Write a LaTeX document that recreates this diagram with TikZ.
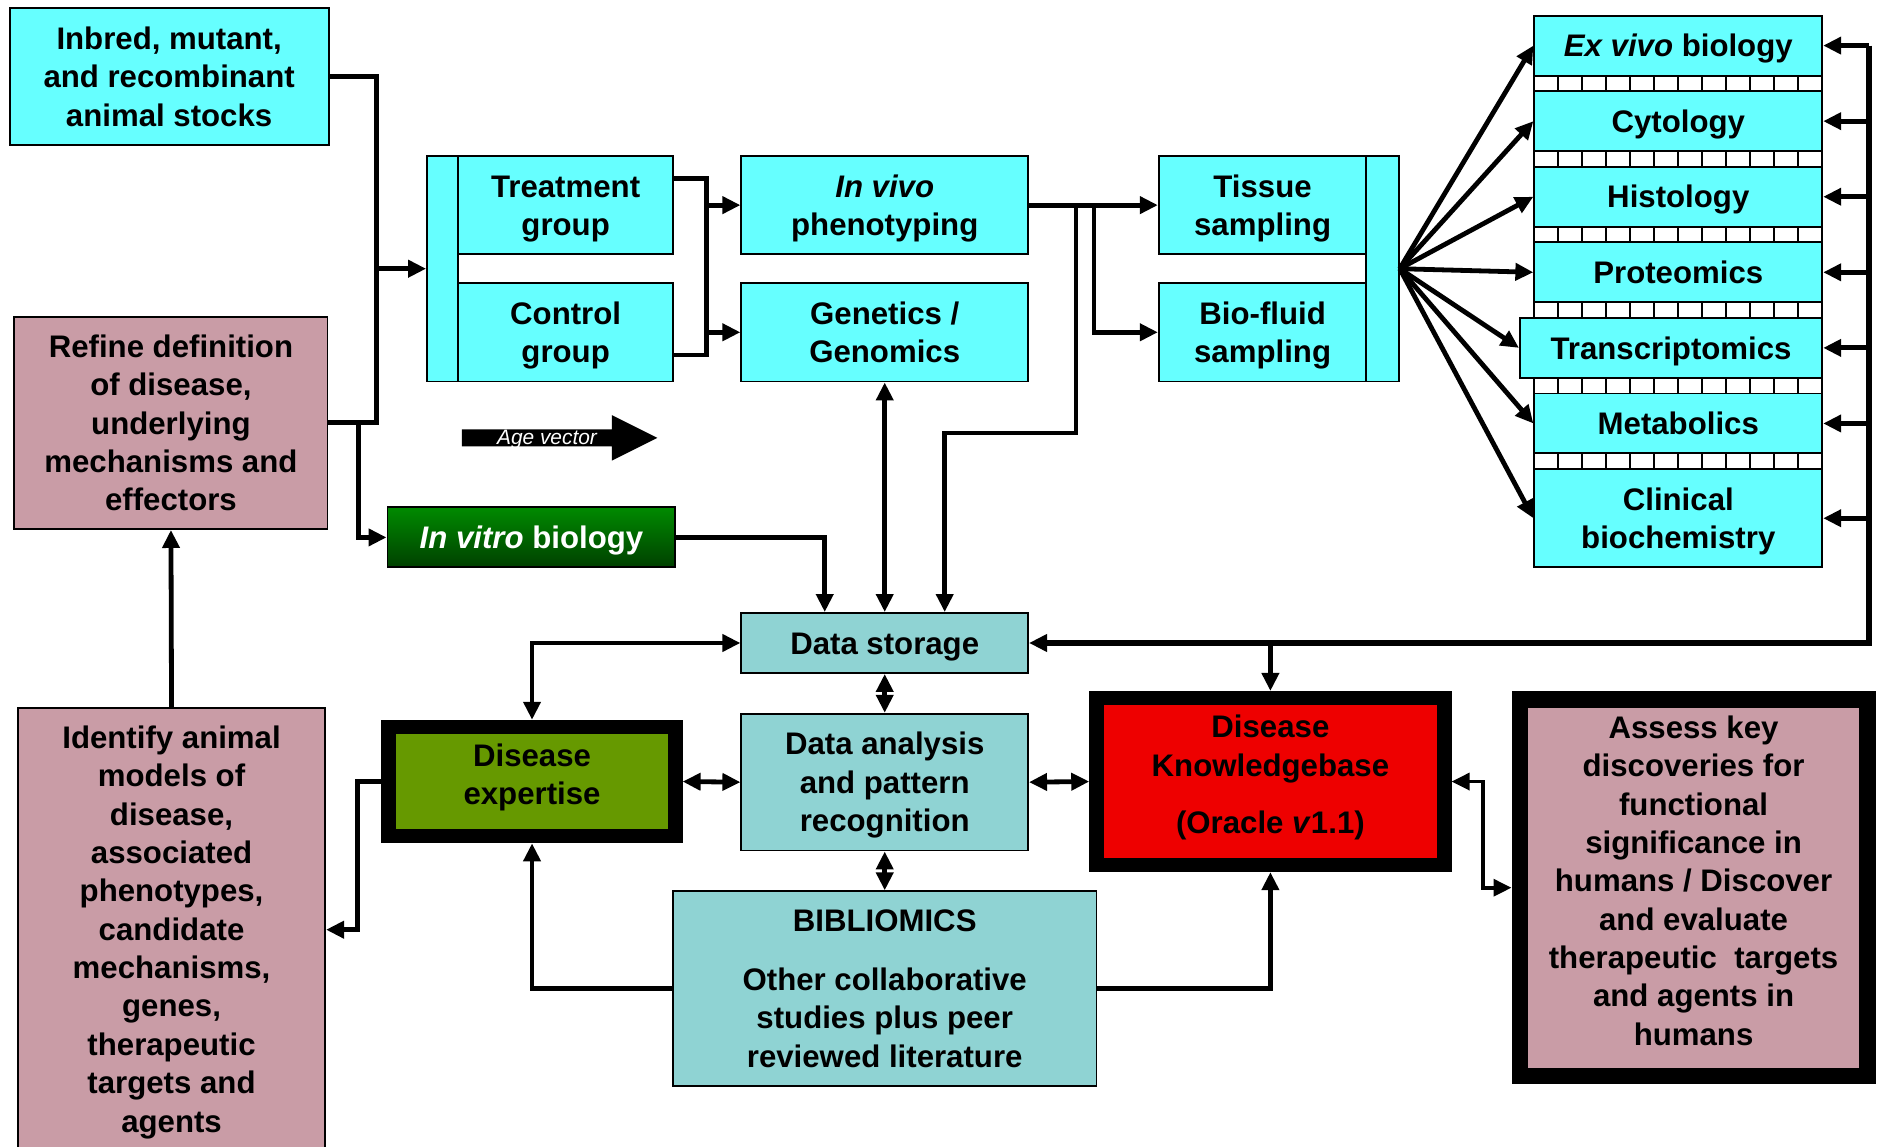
\documentclass[tikz,border=0pt]{standalone}
\usepackage{fontspec}
\setmainfont{Liberation Sans}
\usetikzlibrary{arrows.meta}
\definecolor{boxcyan}{HTML}{66FFFF}
\definecolor{boxpink}{HTML}{C99CA6}
\definecolor{boxteal}{HTML}{8FD3D3}
\definecolor{expgreen}{HTML}{669900}
\definecolor{kbred}{HTML}{EE0000}
\definecolor{ivtop}{HTML}{008A00}
\definecolor{ivbot}{HTML}{004000}
\newcommand{\topstrut}[1][12pt]{\rule{0pt}{#1}}
\tikzset{
		>={Triangle[length=7.5pt,width=7pt]},
		box/.style={draw,line width=0.8pt,align=center,inner sep=0pt,
			font=\bfseries\fontsize{13}{16}\selectfont},
		lowtext/.style={execute at begin node={\topstrut}},
		hightext/.style={execute at end node={\rule[-6pt]{0pt}{6pt}}},
		cyanbox/.style={box,lowtext,fill=boxcyan},
		pinkbox/.style={box,fill=boxpink},
		tealbox/.style={box,fill=boxteal},
		heavybox/.style={box,hightext,line width=6pt},
		conn/.style={line width=2pt},
		rail/.style={line width=2.6pt},
		ladder/.style={draw,fill=white,line width=0.8pt}
	}
\begin{document}
\begin{tikzpicture}[x=0.5pt,y=-0.5pt]
          \useasboundingbox[fill=white] (0,0) rectangle (1568,956);

          % ladders between the assay boxes
          \foreach \y in {63,126,189,252,315,378}{
            \draw[ladder] (1279,\y) rectangle (1519,\y+13);
            \foreach \i in {1,...,11}
              \draw[line width=0.8pt] ({1279+20*\i},\y) -- ++(0,13);
          }

          \node[box,fill=boxcyan,minimum width=133pt,minimum height=57pt] (inbred) at (141,64) {Inbred, mutant,\\and recombinant\\animal stocks};
          \node[pinkbox,minimum width=130.5pt,minimum height=88.5pt] (refine) at (142.5,352.5) {Refine definition\\of disease,\\underlying\\mechanisms and\\effectors};
          \node[pinkbox,minimum width=128pt,minimum height=185pt] (identify) at (143,775) {\topstrut[11.5pt]Identify animal\\models of\\disease,\\associated\\phenotypes,\\candidate\\mechanisms,\\genes,\\therapeutic\\targets and\\agents};

          \node[cyanbox,minimum width=13pt,minimum height=94pt] (bar1) at (369,224) {};
          \node[cyanbox,minimum width=89.5pt,minimum height=41pt] (treat) at (471.5,171) {\topstrut Treatment\\group};
          \node[cyanbox,minimum width=89.5pt,minimum height=41pt] (control) at (471.5,277) {\topstrut Control\\group};
          \node[cyanbox,minimum width=119.5pt,minimum height=41pt] (invivo) at (737.5,171) {\topstrut\textit{In vivo}\\phenotyping};
          \node[cyanbox,minimum width=119.5pt,minimum height=41pt] (genetics) at (737.5,277) {Genetics /\\Genomics};
          \node[cyanbox,minimum width=86.5pt,minimum height=41pt] (tissue) at (1052.5,171) {\topstrut Tissue\\sampling};
          \node[cyanbox,minimum width=86.5pt,minimum height=41pt] (biofluid) at (1052.5,277) {\topstrut Bio-fluid\\sampling};
          \node[cyanbox,minimum width=13.5pt,minimum height=94pt] (bar2) at (1152.5,224) {};

          \node[cyanbox,minimum width=120pt,minimum height=25pt] (exvivo) at (1399,38) {\textit{Ex vivo} biology};
          \node[cyanbox,minimum width=120pt,minimum height=25pt] (cytology) at (1399,101) {Cytology};
          \node[cyanbox,minimum width=120pt,minimum height=25pt] (histology) at (1399,164) {Histology};
          \node[box,fill=boxcyan,minimum width=120pt,minimum height=25pt] (proteomics) at (1399,227) {Proteomics};
          \node[cyanbox,minimum width=126pt,minimum height=25pt] (transcript) at (1393,290) {Transcriptomics};
          \node[box,fill=boxcyan,minimum width=120pt,minimum height=25pt] (metabol) at (1399,353) {Metabolics};
          \node[cyanbox,minimum width=120pt,minimum height=41pt] (clinical) at (1399,432) {\topstrut Clinical\\biochemistry};

          % age vector
          \fill (385,358) -- (510,358) -- (510,346) -- (548,365) -- (510,384) -- (510,372) -- (385,372) -- cycle;
          \node[text=white,font=\itshape\fontsize{8.7}{10}\selectfont] (agelabel) at (456,366) {Age vector};

          \node[box,lowtext,top color=ivtop,bottom color=ivbot,text=white,minimum width=120pt,minimum height=25pt] (invitro) at (443,448) {\textit{In vitro} biology};
          \node[tealbox,lowtext,minimum width=119.5pt,minimum height=25pt] (datastore) at (737.5,536) {Data storage};
          \node[tealbox,minimum width=119.5pt,minimum height=57pt] (analysis) at (737.5,652) {\topstrut Data analysis\\and pattern\\recognition};
          \node[tealbox,minimum width=176.5pt,minimum height=81pt] (biblio) at (737.5,824) {BIBLIOMICS\\[8.5pt]Other collaborative\\studies plus peer\\reviewed literature};
          \node[heavybox,fill=expgreen,minimum width=119.5pt,minimum height=45.5pt] (expertise) at (443.5,651.5) {Disease\\expertise};
          \node[heavybox,fill=kbred,minimum width=145pt,minimum height=69.5pt] (kb) at (1059,651.5) {Disease\\Knowledgebase\\[8pt](Oracle \textit{v}1.1)};
          \node[heavybox,line width=7pt,fill=boxpink,minimum width=144.75pt,minimum height=157pt] (assess) at (1411.75,740) {Assess key\\discoveries for\\functional\\significance in\\humans / Discover\\and evaluate\\therapeutic~~targets\\and agents in\\humans};

          % connectors
          \coordinate (jL) at (314,224);
          \coordinate (jT) at (589,224);
          \coordinate (jV) at (912,224);
          \coordinate (jD) at (897,361);
          \coordinate (railtop) at (1558,38);
          \coordinate (railbot) at (1558,536);

          \draw[conn,->] (inbred.east) -| (jL) -- (bar1.west);
          \draw[conn] (refine.east) -| (jL);
          \draw[conn,->] ([xshift=12.5pt]refine.east) |- (invitro.west);
          \draw[conn] ([yshift=11pt]treat.east) -| (jT) |- ([yshift=-9.5pt]control.east);
          \draw[conn,->] (jT |- invivo.west) -- (invivo.west);
          \draw[conn,->] (jT |- genetics.west) -- (genetics.west);
          \draw[conn,->] (invivo.east) -- (tissue.west);
          \draw[conn,->] (jV |- invivo.east) |- (biofluid.west);
          \draw[conn,->] (jD |- invivo.east) -- (jD) -| ([xshift=25pt]datastore.north);
          \draw[conn,<->] (genetics.south) -- (datastore.north);
          \draw[conn,->] (invitro.east) -| ([xshift=-25pt]datastore.north);

          \foreach \n in {exvivo,cytology,histology,proteomics,transcript,metabol,clinical}{
            \draw[conn,->] (bar2.east) -- (\n.west);
            \draw[conn,->] (railtop |- \n.east) -- (\n.east);
          }
          \draw[rail,->] (railtop) -- (railbot) -- (datastore.east);
          \draw[conn,->] (datastore.east -| kb.north) -- (kb.north);

          \draw[conn,<->] (datastore.west) -| (expertise.north);
          \draw[conn,<->] (datastore.south) -- (analysis.north);
          \draw[conn,<->] (expertise.east) -- (analysis.west);
          \draw[conn,<->] (analysis.east) -- (kb.west);
          \draw[conn,<->] (analysis.south) -- (biblio.north);
          \draw[conn,->] (biblio.west) -| (expertise.south);
          \draw[conn,->] (biblio.east) -| (kb.south);
          \draw[conn,->] (expertise.west) -- ++(-10pt,0) |- (identify.east);
          \draw[conn,->] (identify.north) -- (refine.south);
          \draw[line width=1.6pt,<->] (kb.east) -- ++(13pt,0) |- (assess.west);% thinner link to the human box

\end{tikzpicture}
\end{document}
